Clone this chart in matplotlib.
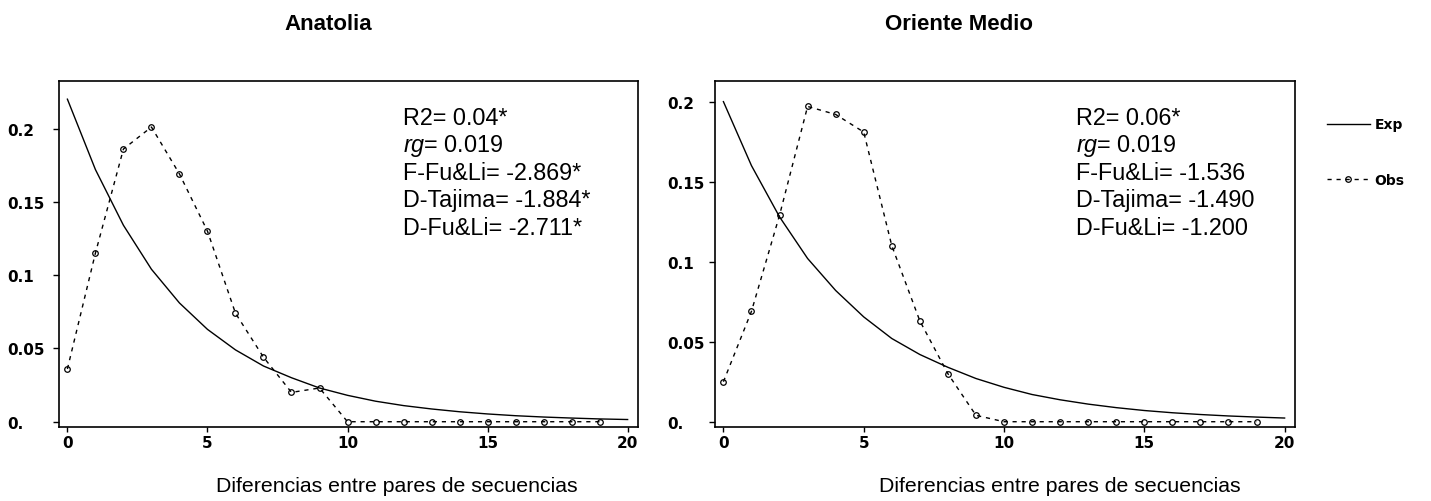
import matplotlib
matplotlib.use("Agg")
import matplotlib.pyplot as plt

W, H, DPI = 1431, 502, 100

# pairwise differences (x values)
diffs_obs = list(range(0, 20))
diffs_exp = list(range(0, 21))

# Anatolia
anatolia_obs = [0.036, 0.115, 0.186, 0.201, 0.169, 0.130, 0.074, 0.044, 0.020, 0.023,
                0, 0, 0, 0, 0, 0, 0, 0, 0, 0]
anatolia_exp = [0.220, 0.172, 0.134, 0.104, 0.081, 0.063, 0.049, 0.038, 0.030, 0.023,
                0.018, 0.014, 0.011, 0.0087, 0.0068, 0.0053, 0.0041, 0.0032, 0.0025,
                0.0019, 0.0015]
anatolia_stats = ["R2= 0.04*", r"$\mathit{rg}$= 0.019", "F-Fu&Li= -2.869*",
                  "D-Tajima= -1.884*", "D-Fu&Li= -2.711*"]

# Oriente Medio
oriente_obs = [0.025, 0.069, 0.129, 0.197, 0.192, 0.181, 0.110, 0.063, 0.030, 0.004,
               0, 0, 0, 0, 0, 0, 0, 0, 0, 0]
oriente_exp = [0.200, 0.160, 0.128, 0.102, 0.082, 0.0655, 0.052, 0.042, 0.034, 0.027,
               0.0215, 0.017, 0.0137, 0.011, 0.0088, 0.007, 0.0056, 0.0045, 0.0036,
               0.0029, 0.0023]
oriente_stats = ["R2= 0.06*", r"$\mathit{rg}$= 0.019", "F-Fu&Li= -1.536",
                 "D-Tajima= -1.490", "D-Fu&Li= -1.200"]

y_ticks = [0, 0.05, 0.1, 0.15, 0.2]
y_tick_labels = ["0.", "0.05", "0.1", "0.15", "0.2"]
x_ticks = [0, 5, 10, 15, 20]
xlabel = "Diferencias entre pares de secuencias"

plt.rcParams["mathtext.fontset"] = "custom"
plt.rcParams["mathtext.it"] = "Liberation Sans:italic"
plt.rcParams["mathtext.rm"] = "Liberation Sans"

TICK_FONT = dict(family="DejaVu Sans", weight="bold", size=11)


def fx(px):
    return px / W


def fy(py):
    return 1 - py / H


def draw_panel(fig, rect, obs, exp, ylim, ypad, title, title_x, xlabel_x, stats_x, stats):
    ax = fig.add_axes(rect)
    exp_line, = ax.plot(diffs_exp, exp, color="black", lw=1.0)
    obs_line, = ax.plot(diffs_obs, obs, color="black", lw=1.0, dashes=(3, 3.5),
                        marker="o", markersize=4, markerfacecolor="none",
                        markeredgecolor="black", markeredgewidth=0.9)
    ax.set_xlim(-0.3, 20.37)
    ax.set_ylim(*ylim)
    ax.set_xticks(x_ticks)
    ax.set_xticklabels([str(t) for t in x_ticks], **TICK_FONT)
    ax.set_yticks(y_ticks)
    ax.set_yticklabels(y_tick_labels, **TICK_FONT)
    for lab in ax.get_yticklabels():
        lab.set_horizontalalignment("left")
    ax.tick_params(axis="y", direction="out", length=4.3, width=1, pad=ypad)
    ax.tick_params(axis="x", direction="out", length=3.6, width=1, pad=2)
    for sp in ax.spines.values():
        sp.set_linewidth(1.2)

    fig.text(fx(title_x), fy(30.5), title, ha="center", va="baseline",
             family="Liberation Sans", weight="bold", size=16)
    fig.text(fx(xlabel_x), fy(492), xlabel, ha="center", va="baseline",
             family="Liberation Sans", size=15.3)
    baselines = [125, 152, 180, 207.5, 235]
    for s, b in zip(stats, baselines):
        fig.text(fx(stats_x), fy(b), s, ha="left", va="baseline",
                 family="Liberation Sans", size=16.8)
    return exp_line, obs_line


fig = plt.figure(figsize=(W / DPI, H / DPI), dpi=DPI)

left_rect = [fx(59), fy(428), fx(638) - fx(59), fy(82) - fy(428)]
right_rect = [fx(715), fy(428), fx(1295) - fx(715), fy(82) - fy(428)]

draw_panel(fig, left_rect, anatolia_obs, anatolia_exp, (-0.0036, 0.2324), 33,
           "Anatolia", 328, 397, 403, anatolia_stats)
exp_line, obs_line = draw_panel(fig, right_rect, oriente_obs, oriente_exp,
                                (-0.0033, 0.2129), 30, "Oriente Medio", 959, 1060,
                                1076, oriente_stats)

fig.legend([exp_line, obs_line], ["Exp", "Obs"], loc="upper left",
           bbox_to_anchor=(fx(1314), fy(106)), frameon=False, numpoints=1,
           handlelength=3.1, handletextpad=0.35, labelspacing=3.0,
           prop=dict(family="DejaVu Sans", weight="bold", size=10))

fig.savefig("out.png", dpi=DPI)
